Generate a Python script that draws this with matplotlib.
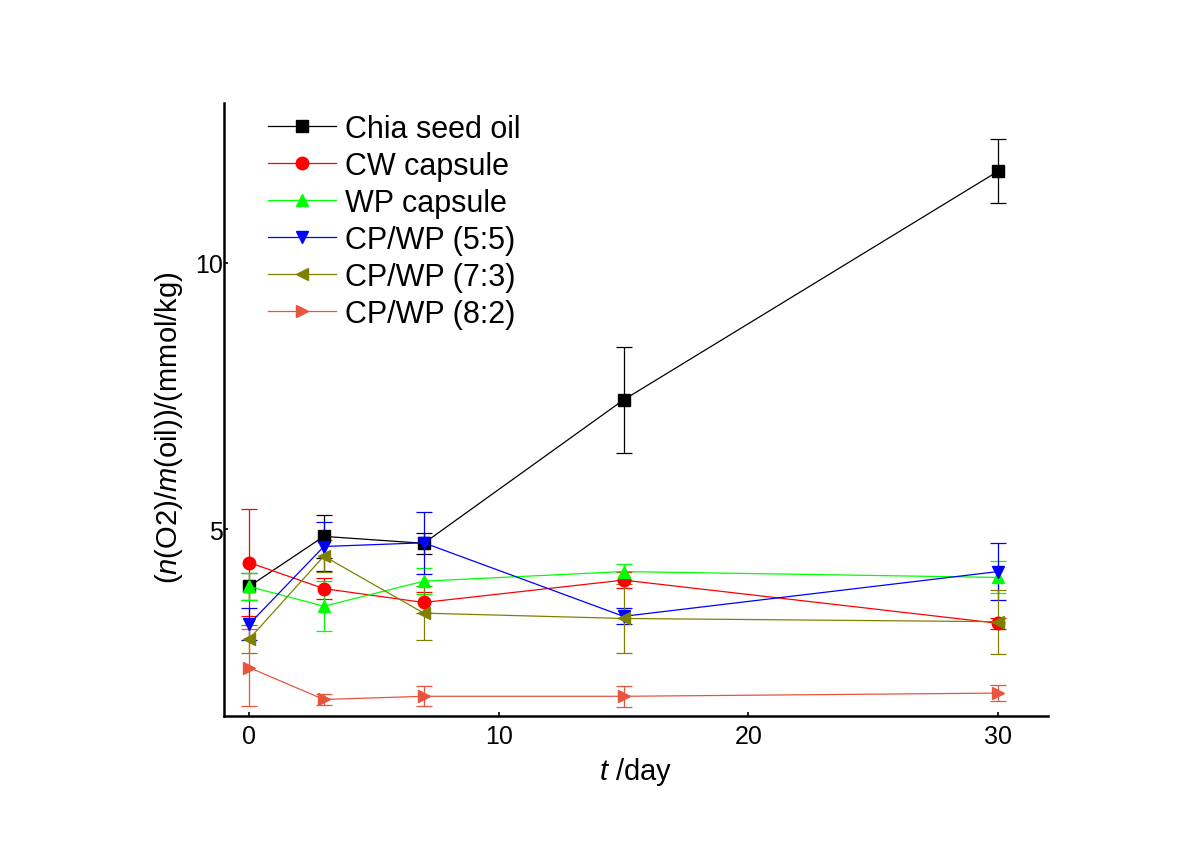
import matplotlib.pyplot as plt
from matplotlib.lines import Line2D

plt.rcParams["font.family"] = ["Liberation Sans", "DejaVu Sans"]
plt.rcParams["mathtext.fontset"] = "custom"
plt.rcParams["mathtext.it"] = "Liberation Sans:italic"
plt.rcParams["mathtext.rm"] = "Liberation Sans"

# ============================================================
# DATA
# ============================================================

days = [0, 3, 7, 15, 30]

series_names = [
    "Chia seed oil",
    "CW capsule",
    "WP capsule",
    "CP/WP (5:5)",
    "CP/WP (7:3)",
    "CP/WP (8:2)",
]

chia_oil = [3.93, 4.87, 4.74, 7.43, 11.72]
chia_oil_err = [0.25, 0.4, 0.2, 1.0, 0.6]

cw_capsule = [4.38, 3.89, 3.63, 4.05, 3.24]
cw_capsule_err = [1.0, 0.2, 0.2, 0.15, 0.1]

wp_capsule = [3.93, 3.56, 4.03, 4.21, 4.10]
wp_capsule_err = [0.25, 0.47, 0.25, 0.15, 0.3]

cpwp_55 = [3.22, 4.68, 4.75, 3.37, 4.21]
cpwp_55_err = [0.3, 0.46, 0.58, 0.15, 0.53]

cpwp_73 = [2.94, 4.50, 3.43, 3.33, 3.27]
cpwp_73_err = [0.26, 0.3, 0.5, 0.65, 0.6]

cpwp_82 = [2.41, 1.81, 1.87, 1.87, 1.93]
cpwp_82_err = [0.73, 0.1, 0.19, 0.2, 0.15]

values = [chia_oil, cw_capsule, wp_capsule, cpwp_55, cpwp_73, cpwp_82]
errors = [chia_oil_err, cw_capsule_err, wp_capsule_err, cpwp_55_err, cpwp_73_err, cpwp_82_err]

colors = ["#000000", "#FF0000", "#00FF00", "#0000FF", "#808000", "#E8553E"]
markers = ["s", "o", "^", "v", "<", ">"]

# ============================================================
# PLOT
# ============================================================

fig = plt.figure(figsize=(12.01, 8.54), dpi=100)
ax = fig.add_axes([0.1865, 0.1604, 0.6861, 0.7178])

handles = []
for name, vals, errs, color, marker in zip(series_names, values, errors, colors, markers):
    ax.errorbar(
        days, vals, yerr=errs,
        color=color, marker=marker, markersize=9,
        linewidth=0.9, elinewidth=0.9, capsize=6, capthick=0.9,
    )
    handles.append(Line2D([], [], color=color, marker=marker, markersize=9,
                          linewidth=0.9, label=name))

ax.set_xlim(-1, 32)
ax.set_ylim(1.5, 13)
ax.set_xticks([0, 10, 20, 30])
ax.set_yticks([5, 10])

ax.spines["top"].set_visible(False)
ax.spines["right"].set_visible(False)
ax.spines["left"].set_linewidth(1.8)
ax.spines["bottom"].set_linewidth(1.8)
ax.tick_params(axis="both", labelsize=18, length=3, width=1.2, direction="in")
ax.tick_params(axis="y", pad=1)
ax.tick_params(axis="x", pad=6)

ax.set_xlabel("$t$ /day", fontsize=21, labelpad=5)
ax.set_ylabel("($n$(O2)/$m$(oil))/(mmol/kg)", fontsize=21)
ax.yaxis.set_label_coords(-0.047, 0.472)

ax.legend(
    handles=handles,
    loc="upper left", bbox_to_anchor=(0.038, 1.002), frameon=False,
    fontsize=22, handlelength=2.25, handletextpad=0.3,
    labelspacing=0.23, borderaxespad=0.0,
)

fig.savefig("out.png", dpi=100)
